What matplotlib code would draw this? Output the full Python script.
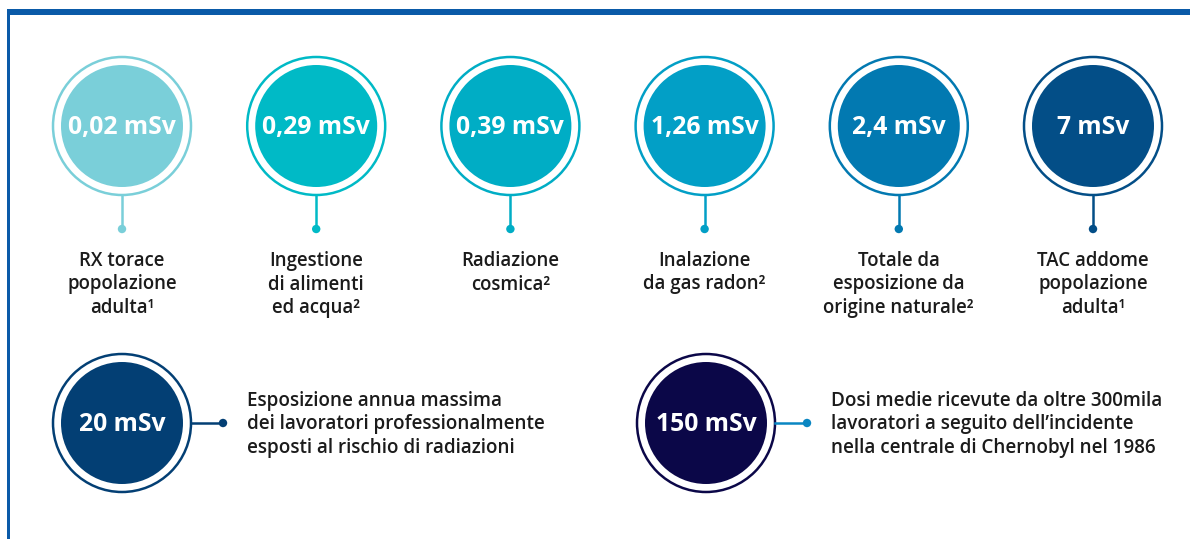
import numpy as np
import matplotlib
matplotlib.use("Agg")
import matplotlib.pyplot as plt
from matplotlib.patches import Circle, Rectangle

# top row: dose values, captions, colours
top_values = ["0,02 mSv", "0,29 mSv", "0,39 mSv", "1,26 mSv", "2,4 mSv", "7 mSv"]
top_labels = [
    ["RX torace", "popolazione", "adulta¹"],
    ["Ingestione", "di alimenti", "ed acqua²"],
    ["Radiazione", "cosmica²"],
    ["Inalazione", "da gas radon²"],
    ["Totale da", "esposizione da", "origine naturale²"],
    ["TAC addome", "popolazione", "adulta¹"],
]
top_colors = ["#7acfd9", "#00bac6", "#00adc5", "#029fc6", "#0279b1", "#034e87"]

# bottom row
bottom_values = ["20 mSv", "150 mSv"]
bottom_labels = [
    ["Esposizione annua massima",
     "dei lavoratori professionalmente",
     "esposti al rischio di radiazioni"],
    ["Dosi medie ricevute da oltre 300mila",
     "lavoratori a seguito dell\u2019incidente",
     "nella centrale di Chernobyl nel 1986"],
]
bottom_colors = ["#033f74", "#0b0748"]
bottom_link = ["#033f74", "#0a86c2"]

W, H = 1190, 539
fig = plt.figure(figsize=(W / 100, H / 100), dpi=100)
ax = fig.add_axes([0, 0, 1, 1])
ax.set_xlim(0, W)
ax.set_ylim(H, 0)
ax.set_aspect("equal")
ax.axis("off")

frame = "#0a5aa8"
ax.add_patch(Rectangle((7, 9), W - 7, 6, color=frame, lw=0))
ax.add_patch(Rectangle((7, 9), 2.5, H, color=frame, lw=0))

R_OUT, R_IN = 69, 61
txt = "#1b1b1b"
fam = ["Open Sans", "DejaVu Sans"]


def badge(x, y, value, col):
    ax.add_patch(Circle((x, y), R_OUT, fill=False, ec=col, lw=1.8))
    ax.add_patch(Circle((x, y), R_IN, color=col, lw=0))
    ax.text(x, y + 1.5, value, color="white", fontsize=17.8, fontweight="bold",
            family=fam, ha="center", va="center")


cy = 126
xs = np.linspace(122, 1093, len(top_values))
for x, val, lab, col in zip(xs, top_values, top_labels, top_colors):
    badge(x, cy, val, col)
    ax.plot([x, x], [cy + R_OUT, 229], color=col, lw=1.8)
    ax.add_patch(Circle((x, 229), 4.2, color=col, lw=0))
    for k, line in enumerate(lab):
        ax.text(x, 261 + k * 23.5, line, color=txt, fontsize=13.4,
                fontweight="semibold", family=fam, ha="center", va="center")

by = 423
bxs = [122, 706]
for x, val, lab, col, lc in zip(bxs, bottom_values, bottom_labels,
                                bottom_colors, bottom_link):
    badge(x, by, val, col)
    ax.plot([x + R_OUT, x + 101], [by, by], color=lc, lw=1.8)
    ax.add_patch(Circle((x + 101, by), 4.2, color=lc, lw=0))
    for k, line in enumerate(lab):
        ax.text(x + 125, 401 + k * 23.5, line, color=txt, fontsize=13.6,
                fontweight="semibold", family=fam, ha="left", va="center")

fig.savefig("out.png", dpi=100)
